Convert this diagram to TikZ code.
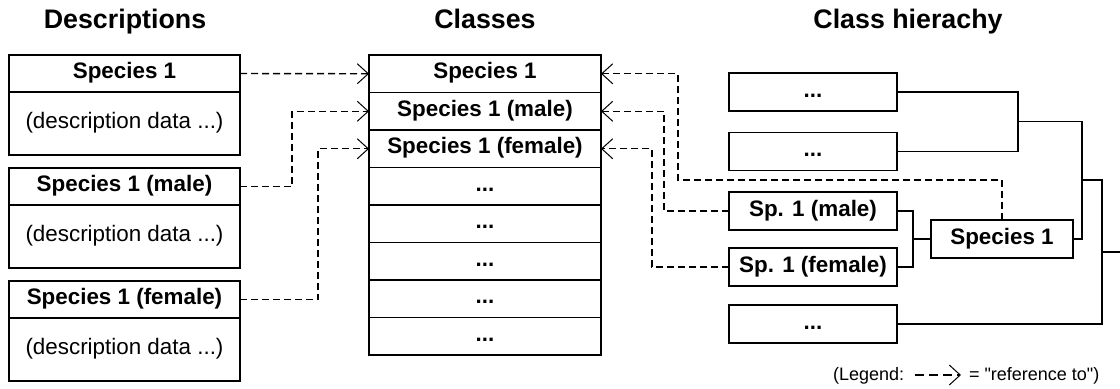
\documentclass[tikz,border=0pt]{standalone}
\usepackage{fontspec}
\setmainfont{Liberation Sans}[Ligatures=TeXOff]
\usetikzlibrary{arrows.meta,positioning}

\begin{document}
\begin{tikzpicture}[x=0.5pt,y=-0.5pt,line width=0.7pt,
  every node/.style={font=\fontsize{11.2}{13}\selectfont\bfseries,inner sep=0pt,outer sep=0pt,text height=0.72em,text depth=0.21em},
  title/.style={font=\fontsize{13.4}{16}\selectfont\bfseries,anchor=base},
  hdr/.style={draw,minimum width=115.5pt,minimum height=18.5pt},
  datbox/.style={draw,minimum width=115.5pt,minimum height=31.5pt,font=\fontsize{11.2}{13}\selectfont},
  cls/.style={draw,minimum width=116pt,minimum height=18.75pt},
  hier/.style={draw,minimum width=84pt,minimum height=19pt},
  legend/.style={font=\fontsize{9}{11}\selectfont,anchor=west},
  ref/.style={dash pattern=on 3.5pt off 2pt,-{Straight Barb[length=5.5pt,width=10pt,line width=0.5pt]}}]
\useasboundingbox (0,0) rectangle (1120,388);
% column titles
\node[title] (tdesc) at (125,28.5) {Descriptions};
\node[title] (tcls) at (485,28.5) {Classes};
\node[title] (thier) at (908,28.5) {Class hierachy};
% descriptions
\node[hdr] (d1) at (124.5,73.5) {Species 1};
\node[datbox,anchor=north] (d1data) at (d1.south) {(description data ...)};
\node[hdr] (d2) at (124.5,186.5) {Species 1 (male)};
\node[datbox,anchor=north] (d2data) at (d2.south) {(description data ...)};
\node[hdr] (d3) at (124.5,299.5) {Species 1 (female)};
\node[datbox,anchor=north] (d3data) at (d3.south) {(description data ...)};
% classes
\foreach \i/\txt in {1/Species 1,2/Species 1 (male),3/Species 1 (female)}
  \node[cls] (c\i) at (485,36.25+37.5*\i) {\txt};
\foreach \i in {4,5,6,7,8}
  \node[cls] (c\i) at (485,36.25+37.5*\i) {...};
% class hierarchy
\node[hier] (h1) at (813,92) {...};
\node[hier] (h2) at (813,151.5) {...};
\node[hier] (hm) at (813,211) {Sp. 1 (male)};
\node[hier] (hf) at (813,267) {Sp. 1 (female)};
\node[hier] (h5) at (813,324) {...};
\node[hier,minimum width=71pt] (hsp) at (1002,239) {Species 1};
\coordinate (j1) at (1018,121.5);
\coordinate (j2) at (1082,180);
\coordinate (j3) at (1102,252);
\coordinate (j4) at (913,239);
\coordinate (rootend) at (1120,252);
\draw (h1.east) -| (j1) |- (h2.east);
\draw (j1) -| (j2) |- (hsp.east);
\draw (j2) -| (j3) |- (h5.east);
\draw (j3) -- (rootend);
\draw (hm.east) -| (j4) |- (hf.east);
\draw (j4) -- (hsp.west);
% references
\coordinate (b1) at (678,180);
\draw[ref] (d1.east) -- (c1.west);
\draw[ref] (d2.east) -- ++(52,0) |- (c2.west);
\draw[ref] (d3.east) -- ++(78,0) |- (c3.west);
\draw[ref] (hsp.north) |- (b1) |- (c1.east);
\draw[ref] (hm.west) -- ++(-65,0) |- (c2.east);
\draw[ref] (hf.west) -- ++(-77,0) |- (c3.east);
% legend
\node[legend] (legtxt) at (833,375) {(Legend:};
\coordinate (lega) at (915,375);
\coordinate (legb) at (961,375);
\draw[ref,line width=1pt,dash pattern=on 4.5pt off 2.5pt] (lega) -- (legb);
\node[legend] (legmean) at (969,375) {= "reference to")};
\end{tikzpicture}
\end{document}
